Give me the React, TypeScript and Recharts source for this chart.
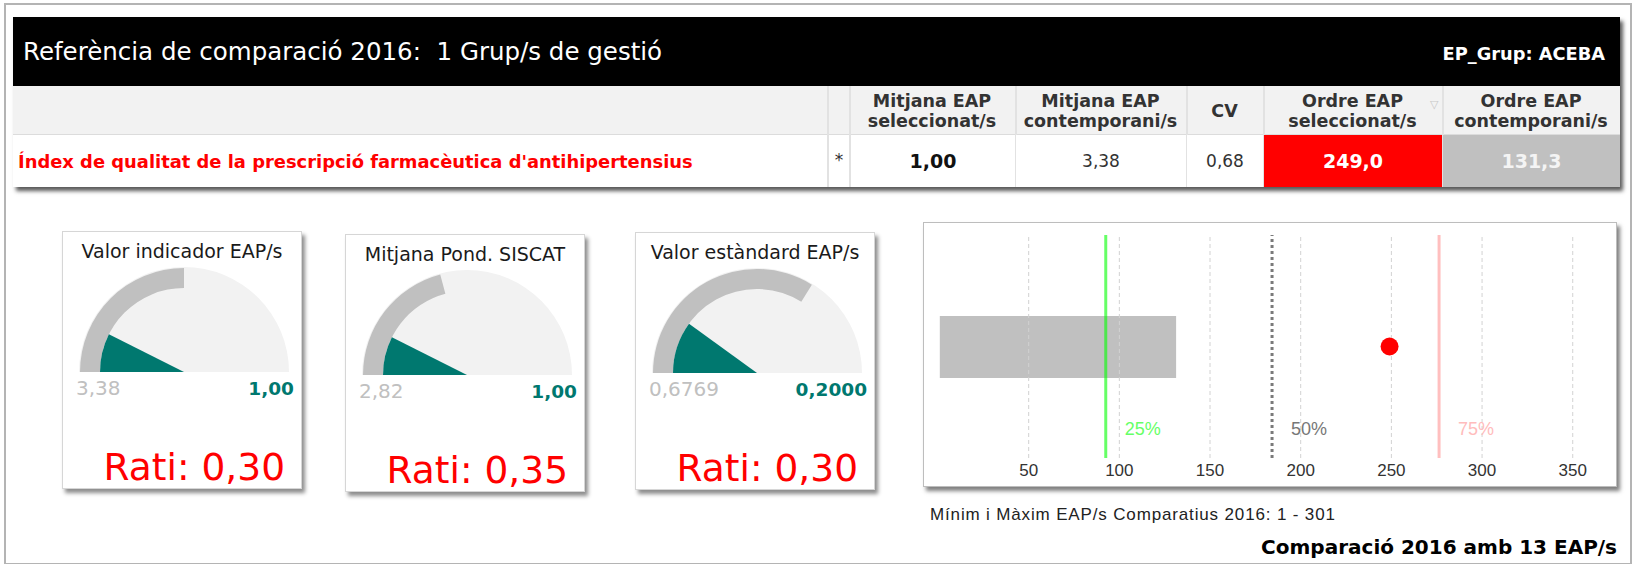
import * as React from "react";
import {
  PieChart,
  Pie,
  Cell,
  ComposedChart,
  Bar,
  XAxis,
  YAxis,
  ReferenceLine,
  ReferenceDot,
} from "recharts";

// --- data ---
const comparisonTitle = "Referència de comparació 2016:  1 Grup/s de gestió";
const groupLabel = "EP_Grup: ACEBA";
const indicatorName =
  "Índex de qualitat de la prescripció farmacèutica d'antihipertensius";
const headerTitles = [
  ["Mitjana EAP", "seleccionat/s"],
  ["Mitjana EAP", "contemporani/s"],
  ["CV"],
  ["Ordre EAP", "seleccionat/s"],
  ["Ordre EAP", "contemporani/s"],
];
const rowValues = ["1,00", "3,38", "0,68", "249,0", "131,3"];

const gaugeTitles = [
  "Valor indicador EAP/s",
  "Mitjana Pond. SISCAT",
  "Valor estàndard EAP/s",
];
const gaugeReference = [3.38, 2.82, 0.6769];
const gaugeValue = [1.0, 1.0, 0.2];
const gaugeMax = [6.76, 6.76, 1.0];
const gaugeDecimals = [2, 2, 4];
const gaugeRatis = [0.3, 0.35, 0.3];

const rankMin = 1;
const rankMax = 301;
const rankContemporani = 131.3;
const rankSelected = 249;
const percentileValues = [92.5, 184.2, 276.3];
const percentileLabels = ["25%", "50%", "75%"];
const rankTicks = [50, 100, 150, 200, 250, 300, 350];
const eapCount = 13;

const fmt = (v: number, d: number) => v.toFixed(d).replace(".", ",");

const FONT = "'DejaVu Sans', Verdana, sans-serif";
const ARIAL = "'Liberation Sans', Arial, sans-serif";

function Gauge({ i, left, top }: { i: number; left: number; top: number }) {
  const ref = gaugeReference[i];
  const val = gaugeValue[i];
  const max = gaugeMax[i];
  return (
    <div
      style={{
        position: "absolute",
        left,
        top,
        width: 240,
        height: 258,
        boxSizing: "border-box",
        background: "#fff",
        border: "1px solid #d6d6d6",
        boxShadow: "3px 4px 4px rgba(0,0,0,0.45)",
      }}
    >
      <div
        style={{
          position: "absolute",
          left: 0,
          right: 0,
          top: 7,
          textAlign: "center",
          fontSize: 19,
          lineHeight: "24px",
          color: "#1a1a1a",
          whiteSpace: "nowrap",
        }}
      >
        {gaugeTitles[i]}
      </div>
      <div style={{ position: "absolute", left: 0, top: 0 }}>
        <PieChart width={236} height={150}>
          <Pie
            data={[{ value: 1 }]}
            dataKey="value"
            cx={116}
            cy={135}
            startAngle={180}
            endAngle={0}
            innerRadius={0}
            outerRadius={105}
            stroke="none"
            isAnimationActive={false}
          >
            <Cell fill="#f2f2f2" stroke="none" />
          </Pie>
          <Pie
            data={[{ value: ref }, { value: max - ref }]}
            dataKey="value"
            cx={116}
            cy={135}
            startAngle={180}
            endAngle={0}
            innerRadius={84}
            outerRadius={104}
            stroke="none"
            isAnimationActive={false}
          >
            <Cell fill="#c0c0c0" stroke="none" />
            <Cell fill="transparent" stroke="none" />
          </Pie>
          <Pie
            data={[{ value: val }, { value: max - val }]}
            dataKey="value"
            cx={116}
            cy={135}
            startAngle={180}
            endAngle={0}
            innerRadius={0}
            outerRadius={84}
            stroke="none"
            isAnimationActive={false}
          >
            <Cell fill="#00786f" stroke="none" />
            <Cell fill="transparent" stroke="none" />
          </Pie>
        </PieChart>
      </div>
      <div
        style={{
          position: "absolute",
          left: 13,
          top: 144,
          fontSize: 20,
          lineHeight: "24px",
          color: "#c0c0c0",
        }}
      >
        {fmt(ref, gaugeDecimals[i])}
      </div>
      <div
        style={{
          position: "absolute",
          right: 7,
          top: 145,
          fontSize: 18.5,
          lineHeight: "24px",
          fontWeight: "bold",
          color: "#00786f",
        }}
      >
        {fmt(val, gaugeDecimals[i])}
      </div>
      <div
        style={{
          position: "absolute",
          right: 16,
          top: 215,
          fontSize: 37.5,
          lineHeight: "40px",
          color: "#ff0000",
          whiteSpace: "nowrap",
        }}
      >
        {"Rati: " + fmt(gaugeRatis[i], 2)}
      </div>
    </div>
  );
}

function PercentLabel(props: any) {
  const { viewBox, text, color } = props;
  if (!viewBox) return null;
  return (
    <text
      x={viewBox.x + 19}
      y={viewBox.y + viewBox.height - 23}
      fill={color}
      fontSize={18}
      fontFamily={ARIAL}
    >
      {text}
    </text>
  );
}

function RankChart() {
  const data = [{ name: "EAP", range: [rankMin, rankContemporani] }];
  const lineStyles = [
    { stroke: "rgba(0,255,0,0.6)", dash: undefined, label: "#66ff66" },
    { stroke: "#7a7a7a", dash: "3 3", label: "#777" },
    { stroke: "rgba(255,0,0,0.25)", dash: undefined, label: "#ffbcbc" },
  ];
  return (
    <ComposedChart
      width={694}
      height={265}
      data={data}
      layout="vertical"
      margin={{ top: 13, right: 8, bottom: 0, left: 15 }}
    >
      <XAxis
        type="number"
        domain={[0, 370]}
        ticks={rankTicks}
        allowDataOverflow
        axisLine={false}
        tickLine={false}
        height={29}
        tickSize={4}
        tickMargin={2}
        tick={{ fill: "#333", fontSize: 17, fontFamily: ARIAL }}
      />
      <YAxis type="category" dataKey="name" hide />
      {rankTicks.map((t) => (
        <ReferenceLine
          key={"g" + t}
          x={t}
          stroke="#d2d2d2"
          strokeDasharray="4 3"
        />
      ))}
      <Bar
        dataKey="range"
        fill="#c0c0c0"
        barSize={62}
        isAnimationActive={false}
      />
      {percentileValues.map((p, i) => (
        <ReferenceLine
          key={i}
          x={p}
          stroke={lineStyles[i].stroke}
          strokeWidth={3}
          strokeDasharray={lineStyles[i].dash}
          label={
            <PercentLabel
              text={percentileLabels[i]}
              color={lineStyles[i].label}
            />
          }
        />
      ))}
      <ReferenceDot
        x={rankSelected}
        y="EAP"
        r={9}
        fill="#ff0000"
        stroke="none"
      />
    </ComposedChart>
  );
}

export default function App() {
  const cols = [
    { l: 849, r: 1015, bg: "#fff", color: "#111", bold: true, size: 19 },
    { l: 1015, r: 1186, bg: "#fff", color: "#333", bold: false, size: 17 },
    { l: 1186, r: 1263, bg: "#fff", color: "#333", bold: false, size: 17 },
    { l: 1263, r: 1442, bg: "#ff0000", color: "#fff", bold: true, size: 19 },
    { l: 1442, r: 1620, bg: "#c0c0c0", color: "#f4f4f4", bold: true, size: 19 },
  ];
  return (
    <div
      style={{
        position: "absolute",
        left: 0,
        top: 0,
        width: 1633,
        height: 564,
        background: "#fff",
        fontFamily: FONT,
        overflow: "hidden",
      }}
    >
      {/* outer frame */}
      <div
        style={{
          position: "absolute",
          left: 4,
          top: 3,
          width: 1624,
          height: 558,
          border: "2px solid #b4b4b4",
        }}
      />

      {/* table */}
      <div
        style={{
          position: "absolute",
          left: 13,
          top: 17,
          width: 1607,
          height: 170,
          boxShadow: "3px 4px 4px rgba(0,0,0,0.65)",
          background: "#fff",
        }}
      />
      <div
        style={{
          position: "absolute",
          left: 13,
          top: 17,
          width: 1607,
          height: 69,
          background: "#000",
        }}
      />
      <div
        style={{
          position: "absolute",
          left: 23,
          top: 17,
          height: 69,
          display: "flex",
          alignItems: "center",
          color: "#fff",
          fontSize: 24.5,
          whiteSpace: "pre",
        }}
      >
        {comparisonTitle}
      </div>
      <div
        style={{
          position: "absolute",
          right: 1633 - 1605,
          top: 19,
          height: 69,
          display: "flex",
          alignItems: "center",
          color: "#fff",
          fontSize: 17.8,
          fontWeight: "bold",
        }}
      >
        {groupLabel}
      </div>
      <div
        style={{
          position: "absolute",
          left: 13,
          top: 86,
          width: 1607,
          height: 49,
          background: "#f2f2f2",
          borderBottom: "1px solid #dcdcdc",
          boxSizing: "border-box",
        }}
      />
      {/* separators */}
      {[827, 849, 1015, 1186, 1263, 1442].map((x, i) => (
        <div
          key={i}
          style={{
            position: "absolute",
            left: x,
            top: 86,
            width: 2,
            height: 101,
            background: "#e2e2e2",
          }}
        />
      ))}
      {headerTitles.map((h, i) => (
        <div
          key={i}
          style={{
            position: "absolute",
            left: cols[i].l,
            width: cols[i].r - cols[i].l,
            top: 86,
            height: 49,
            display: "flex",
            flexDirection: "column",
            justifyContent: "center",
            alignItems: "center",
            color: "#333",
            fontWeight: "bold",
            fontSize: 17.5,
            lineHeight: "20px",
            whiteSpace: "nowrap",
          }}
        >
          {h.map((t, j) => (
            <div key={j}>{t}</div>
          ))}
        </div>
      ))}
      <div
        style={{
          position: "absolute",
          left: 1430,
          top: 98,
          fontSize: 11,
          color: "#c8c8c8",
        }}
      >
        ▽
      </div>
      <div
        style={{
          position: "absolute",
          left: 18,
          top: 135,
          height: 52,
          display: "flex",
          alignItems: "center",
          color: "#ff0000",
          fontWeight: "bold",
          fontSize: 17.9,
          whiteSpace: "nowrap",
        }}
      >
        {indicatorName}
      </div>
      <div
        style={{
          position: "absolute",
          left: 829,
          width: 20,
          top: 135,
          height: 50,
          display: "flex",
          alignItems: "center",
          justifyContent: "center",
          fontSize: 17,
          color: "#333",
        }}
      >
        *
      </div>
      {rowValues.map((v, i) => (
        <div
          key={i}
          style={{
            position: "absolute",
            left: cols[i].l + (i === 0 ? 2 : 1),
            width: cols[i].r - cols[i].l - (i === 0 ? 2 : 1),
            top: 135,
            height: 52,
            display: "flex",
            alignItems: "center",
            justifyContent: "center",
            background: cols[i].bg,
            color: cols[i].color,
            fontWeight: cols[i].bold ? "bold" : "normal",
            fontSize: cols[i].size,
          }}
        >
          {v}
        </div>
      ))}

      {/* gauges */}
      <Gauge i={0} left={62} top={231} />
      <Gauge i={1} left={345} top={234} />
      <Gauge i={2} left={635} top={232} />

      {/* rank chart */}
      <div
        style={{
          position: "absolute",
          left: 923,
          top: 222,
          width: 694,
          height: 265,
          boxSizing: "border-box",
          background: "#fff",
          border: "1px solid #bdbdbd",
          boxShadow: "3px 4px 4px rgba(0,0,0,0.5)",
        }}
      />
      <div style={{ position: "absolute", left: 923, top: 222 }}>
        <RankChart />
      </div>
      <div
        style={{
          position: "absolute",
          left: 930,
          top: 504,
          fontSize: 17,
          lineHeight: "22px",
          letterSpacing: 0.85,
          color: "#222",
          fontFamily: ARIAL,
          whiteSpace: "nowrap",
        }}
      >
        {`Mínim i Màxim EAP/s Comparatius 2016: ${rankMin} - ${rankMax}`}
      </div>
      <div
        style={{
          position: "absolute",
          right: 1633 - 1617,
          top: 535,
          fontSize: 20,
          lineHeight: "24px",
          fontWeight: "bold",
          color: "#000",
          whiteSpace: "nowrap",
        }}
      >
        {`Comparació 2016 amb ${eapCount} EAP/s`}
      </div>
    </div>
  );
}
